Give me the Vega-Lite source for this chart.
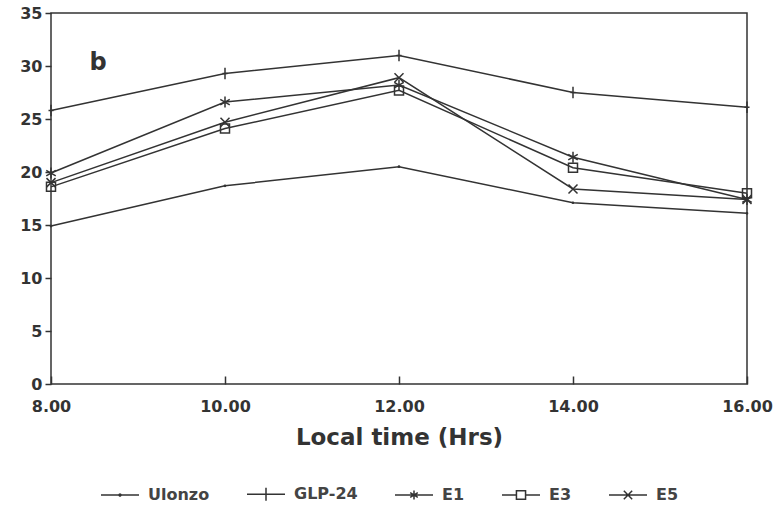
{
  "$schema": "https://vega.github.io/schema/vega-lite/v6.json",
  "autosize": "none",
  "width": 696,
  "height": 371,
  "padding": {"left": 51, "top": 13, "right": 37, "bottom": 125},
  "background": "#ffffff",
  "config": {
    "view": {"stroke": "#333333", "strokeWidth": 1.5},
    "font": "DejaVu Sans",
    "axis": {
      "grid": false,
      "domain": false,
      "labelFont": "DejaVu Sans",
      "labelFontWeight": "bold",
      "labelFontSize": 16,
      "labelColor": "#333333",
      "tickColor": "#333333",
      "tickWidth": 1.5,
      "titleFont": "DejaVu Sans",
      "titleFontWeight": "bold",
      "titleColor": "#333333"
    }
  },
  "datasets": {
    "series": [
      {"time": 8, "value": 14.9, "variety": "Ulonzo"},
      {"time": 10, "value": 18.7, "variety": "Ulonzo"},
      {"time": 12, "value": 20.5, "variety": "Ulonzo"},
      {"time": 14, "value": 17.1, "variety": "Ulonzo"},
      {"time": 16, "value": 16.1, "variety": "Ulonzo"},
      {"time": 8, "value": 25.8, "variety": "GLP-24"},
      {"time": 10, "value": 29.3, "variety": "GLP-24"},
      {"time": 12, "value": 31.0, "variety": "GLP-24"},
      {"time": 14, "value": 27.5, "variety": "GLP-24"},
      {"time": 16, "value": 26.1, "variety": "GLP-24"},
      {"time": 8, "value": 19.9, "variety": "E1"},
      {"time": 10, "value": 26.6, "variety": "E1"},
      {"time": 12, "value": 28.2, "variety": "E1"},
      {"time": 14, "value": 21.4, "variety": "E1"},
      {"time": 16, "value": 17.4, "variety": "E1"},
      {"time": 8, "value": 18.6, "variety": "E3"},
      {"time": 10, "value": 24.1, "variety": "E3"},
      {"time": 12, "value": 27.7, "variety": "E3"},
      {"time": 14, "value": 20.4, "variety": "E3"},
      {"time": 16, "value": 18.0, "variety": "E3"},
      {"time": 8, "value": 19.0, "variety": "E5"},
      {"time": 10, "value": 24.7, "variety": "E5"},
      {"time": 12, "value": 28.9, "variety": "E5"},
      {"time": 14, "value": 18.4, "variety": "E5"},
      {"time": 16, "value": 17.4, "variety": "E5"}
    ],
    "panel": [{"time": 8.54, "value": 30.3, "label": "b"}]
  },
  "layer": [
    {
      "data": {"name": "series"},
      "mark": {"type": "line", "color": "#333333", "strokeWidth": 1.5},
      "encoding": {
        "x": {
          "field": "time", "type": "quantitative",
          "scale": {"domain": [8, 16], "nice": false},
          "axis": {"values": [8, 10, 12, 14, 16], "format": ".2f", "title": "Local time (Hrs)", "titleFontSize": 23, "titlePadding": 12, "tickSize": -8, "labelPadding": 22, "labelFlush": false}
        },
        "y": {
          "field": "value", "type": "quantitative",
          "scale": {"domain": [0, 35], "nice": false},
          "axis": {"values": [0, 5, 10, 15, 20, 25, 30, 35], "title": null, "tickSize": 6, "labelPadding": 3}
        },
        "detail": {"field": "variety"}
      }
    },
    {
      "data": {"name": "series"},
      "mark": {"type": "point", "filled": false, "stroke": "#333333", "strokeWidth": 1.5, "size": 100, "opacity": 1},
      "encoding": {
        "x": {"field": "time", "type": "quantitative"},
        "y": {"field": "value", "type": "quantitative"},
        "shape": {
          "field": "variety", "type": "nominal",
          "scale": {
            "domain": ["Ulonzo", "GLP-24", "E1", "E3", "E5"],
            "range": [
              "M-0.12,0A0.12,0.12 0 1,0 0.12,0A0.12,0.12 0 1,0 -0.12,0Z",
              "M0,-1.15V1.15M-0.5,0H0.5",
              "M0,-1.1V1.1M-0.95,-0.55L0.95,0.55M-0.95,0.55L0.95,-0.55",
              "M-0.9,-0.9H0.9V0.9H-0.9Z",
              "M-0.9,-0.9L0.9,0.9M-0.9,0.9L0.9,-0.9"
            ]
          },
          "legend": null
        }
      }
    },
    {
      "data": {"name": "series"},
      "mark": {"type": "point", "filled": false, "stroke": "#333333", "strokeWidth": 1.5, "size": 1444, "opacity": 0},
      "encoding": {
        "x": {"field": "time", "type": "quantitative"},
        "y": {"field": "value", "type": "quantitative"},
        "shape": {
          "field": "variety", "type": "nominal",
          "scale": {
            "domain": ["Ulonzo", "GLP-24", "E1", "E3", "E5"],
            "range": [
              "M-1,0H1M-0.05,0A0.05,0.05 0 1,0 0.05,0A0.05,0.05 0 1,0 -0.05,0Z",
              "M-1,0H1M0,-0.34V0.34",
              "M-1,0H1M0,-0.24V0.24M-0.2,-0.12L0.2,0.12M-0.2,0.12L0.2,-0.12",
              "M-1,0H-0.24V-0.22H0.24V0.22H-0.24V0M0.24,0H1",
              "M-1,0H1M-0.22,-0.22L0.22,0.22M-0.22,0.22L0.22,-0.22"
            ]
          },
          "legend": {
            "title": null,
            "orient": "none",
            "direction": "horizontal",
            "legendX": 49,
            "legendY": 461,
            "symbolSize": 1444,
            "symbolStrokeWidth": 1.5,
            "symbolStrokeColor": "#333333",
            "labelFont": "DejaVu Sans",
            "labelFontWeight": "bold",
            "labelFontSize": 16,
            "labelColor": "#444444",
            "labelOffset": 8,
            "columnPadding": 34,
            "encode": {"symbols": {"update": {"opacity": {"value": 1}, "stroke": {"value": "#333333"}, "fill": {"value": "transparent"}}}}
          }
        }
      }
    },
    {
      "data": {"name": "panel"},
      "mark": {"type": "text", "font": "DejaVu Sans", "fontWeight": "bold", "fontSize": 24, "color": "#333333"},
      "encoding": {
        "x": {"field": "time", "type": "quantitative"},
        "y": {"field": "value", "type": "quantitative"},
        "text": {"field": "label"}
      }
    }
  ],
  "resolve": {"scale": {"shape": "independent"}}
}
